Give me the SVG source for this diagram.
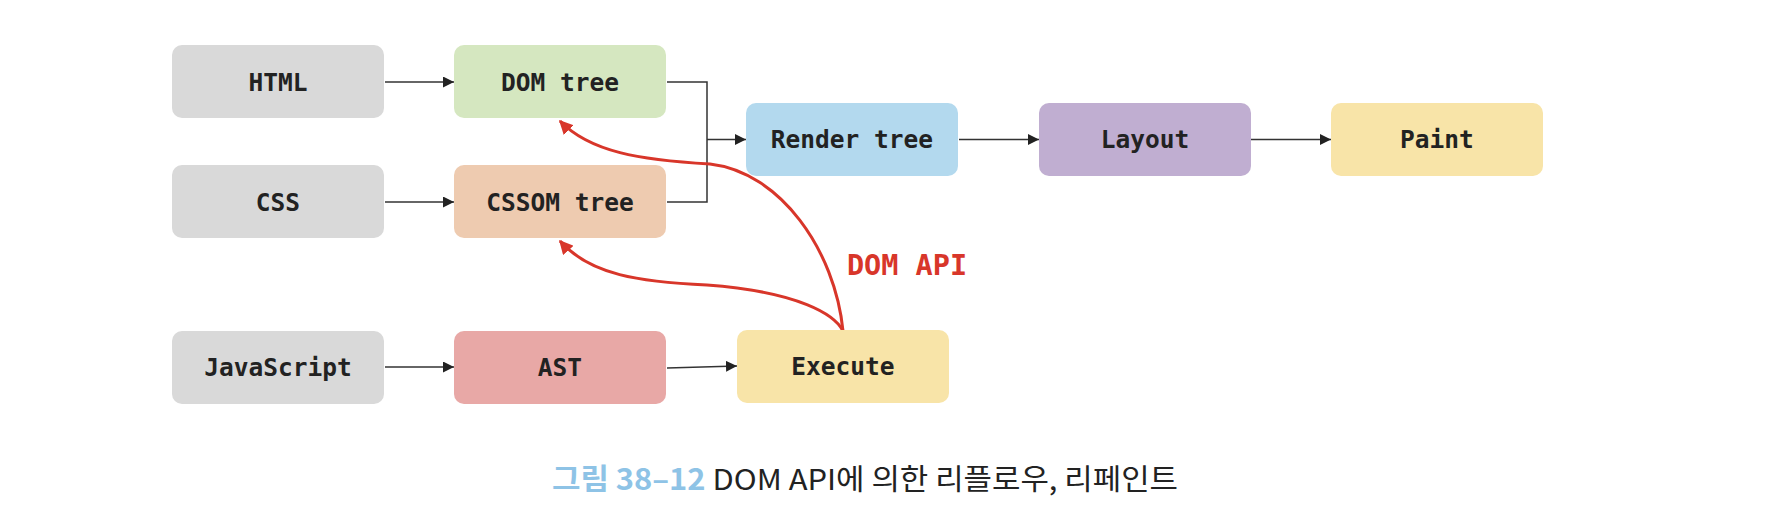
<svg xmlns="http://www.w3.org/2000/svg" width="1776" height="508" viewBox="0 0 1776 508">
<style>
.box{stroke:none}
.lbl{font-family:"DejaVu Sans Mono","Liberation Mono",monospace;font-weight:bold;font-size:24.5px;fill:#222;text-anchor:middle;dominant-baseline:central}
.k{stroke:#333;stroke-width:1.5;fill:none}
.r{stroke:#d8362a;stroke-width:3;fill:none}
</style>
<defs>
<marker id="ah" viewBox="0 0 10 10" refX="10" refY="5" markerWidth="11" markerHeight="11" markerUnits="userSpaceOnUse" orient="auto"><path d="M0,0L10,5L0,10z" fill="#222"/></marker>
<marker id="rh" viewBox="0 0 10 10" refX="9" refY="5" markerWidth="14" markerHeight="14" markerUnits="userSpaceOnUse" orient="auto"><path d="M0,0L10,5L0,10z" fill="#d8362a"/></marker>
</defs>
<rect width="1776" height="508" fill="#fff"/>
<g id="connectors">
<path class="k" d="M385,82H454" marker-end="url(#ah)"/>
<path class="k" d="M385,202H454" marker-end="url(#ah)"/>
<path class="k" d="M667,82H707V202H667"/>
<path class="k" d="M707,139.5H746" marker-end="url(#ah)"/>
<path class="k" d="M959,139.5H1039" marker-end="url(#ah)"/>
<path class="k" d="M1251,139.5H1331" marker-end="url(#ah)"/>
<path class="k" d="M385,367H454" marker-end="url(#ah)"/>
<path class="k" d="M667,368L737,366" marker-end="url(#ah)"/>
<path class="r" d="M843,331C835,250 780,172 710,164C640,160 590,152 560,121" marker-end="url(#rh)"/>
<path class="r" d="M843,331C835,315 800,292 707,285C640,282 590,275 560,241" marker-end="url(#rh)"/>
</g>
<g id="html"><rect class="box" x="172" y="45" width="212" height="73" rx="10" fill="#d9d9d9"/><text class="lbl" x="278" y="82">HTML</text></g>
<g id="dom"><rect class="box" x="454" y="45" width="212" height="73" rx="10" fill="#d5e7c0"/><text class="lbl" x="560" y="82">DOM tree</text></g>
<g id="css"><rect class="box" x="172" y="165" width="212" height="73" rx="10" fill="#d9d9d9"/><text class="lbl" x="278" y="202">CSS</text></g>
<g id="cssom"><rect class="box" x="454" y="165" width="212" height="73" rx="10" fill="#eecbb0"/><text class="lbl" x="560" y="202">CSSOM tree</text></g>
<g id="render"><rect class="box" x="746" y="103" width="212" height="73" rx="10" fill="#b3d9ee"/><text class="lbl" x="852" y="139.5">Render tree</text></g>
<g id="layout"><rect class="box" x="1039" y="103" width="212" height="73" rx="10" fill="#c0aed1"/><text class="lbl" x="1145" y="139.5">Layout</text></g>
<g id="paint"><rect class="box" x="1331" y="103" width="212" height="73" rx="10" fill="#f8e4a8"/><text class="lbl" x="1437" y="139.5">Paint</text></g>
<g id="js"><rect class="box" x="172" y="331" width="212" height="73" rx="10" fill="#d9d9d9"/><text class="lbl" x="278" y="367">JavaScript</text></g>
<g id="ast"><rect class="box" x="454" y="331" width="212" height="73" rx="10" fill="#e8a8a6"/><text class="lbl" x="560" y="367">AST</text></g>
<g id="execute"><rect class="box" x="737" y="330" width="212" height="73" rx="10" fill="#f8e4a8"/><text class="lbl" x="843" y="366">Execute</text></g>
<text x="907" y="265" font-family="DejaVu Sans Mono,monospace" font-weight="bold" font-size="28.5" fill="#d8362a" text-anchor="middle" dominant-baseline="central">DOM API</text>
<text x="552" y="490" font-family="Noto Sans CJK KR,Noto Sans,sans-serif" font-size="29" textLength="626" lengthAdjust="spacingAndGlyphs"><tspan fill="#8ec3e6" font-weight="bold">그림 38–12</tspan><tspan fill="#222"> DOM API에 의한 리플로우, 리페인트</tspan></text>
</svg>
